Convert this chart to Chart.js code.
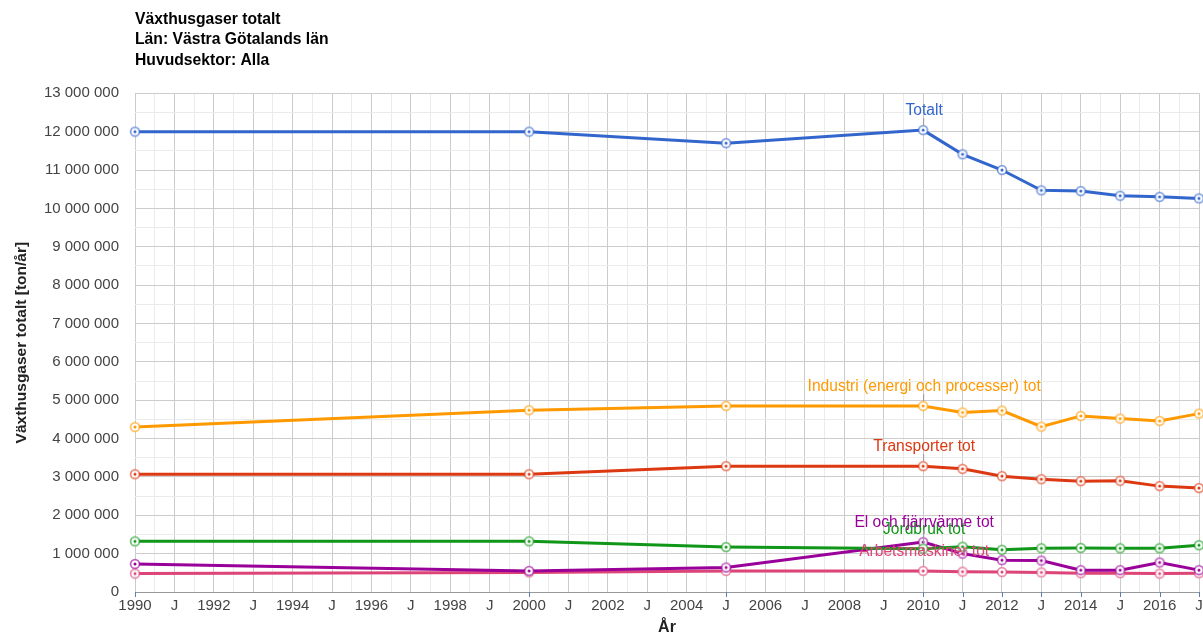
<!DOCTYPE html>
<html>
<head>
<meta charset="utf-8">
<script src="https://cdn.jsdelivr.net/npm/chart.js@4"></script>
<style>
  body { margin: 0; background: #fff; }
  #wrap { width: 1203px; height: 633px; }
</style>
</head>
<body>
<div id="wrap"><canvas id="chart" width="1203" height="633"></canvas></div>
<script>
// Data
const years = [1990, 2000, 2005, 2010, 2011, 2012, 2013, 2014, 2015, 2016, 2017];

const totalt         = [12000000, 12000000, 11700000, 12040000, 11410000, 11000000, 10470000, 10450000, 10330000, 10300000, 10260000];
const industri       = [4300000, 4740000, 4850000, 4850000, 4680000, 4730000, 4310000, 4590000, 4520000, 4460000, 4650000];
const transporter    = [3070000, 3070000, 3280000, 3280000, 3210000, 3020000, 2940000, 2890000, 2900000, 2760000, 2710000];
const jordbruk       = [1320000, 1320000, 1170000, 1130000, 1180000, 1100000, 1140000, 1150000, 1140000, 1140000, 1220000];
const elFjarrvarme   = [730000, 550000, 640000, 1300000, 1000000, 830000, 820000, 570000, 570000, 770000, 570000];
const arbetsmaskiner = [480000, 510000, 550000, 550000, 530000, 520000, 510000, 490000, 490000, 480000, 490000];

const seriesNames = ['Totalt', 'Industri (energi och processer) tot', 'Transporter tot',
                     'Jordbruk tot', 'El och fjärrvärme tot', 'Arbetsmaskiner tot'];

const xTickLabels = ['1990', 'J', '1992', 'J', '1994', 'J', '1996', 'J', '1998', 'J', '2000', 'J', '2002', 'J',
                     '2004', 'J', '2006', 'J', '2008', 'J', '2010', 'J', '2012', 'J', '2014', 'J', '2016', 'J'];
const yTickLabels = ['0', '1 000 000', '2 000 000', '3 000 000', '4 000 000', '5 000 000', '6 000 000',
                     '7 000 000', '8 000 000', '9 000 000', '10 000 000', '11 000 000', '12 000 000', '13 000 000'];

const titleLines = ['Växthusgaser totalt', 'Län: Västra Götalands län', 'Huvudsektor: Alla'];
const yTitle = 'Växthusgaser totalt [ton/år]';
const xTitle = 'År';

const colors = ['#3366cc', '#ff9900', '#dc3912', '#109618', '#990099', '#dd4477'];
const FONT = 'Arial, "Liberation Sans", sans-serif';

// small ringed marker like the original
function makePoint(color) {
    const c = document.createElement('canvas');
    c.width = 12; c.height = 12;
    const g = c.getContext('2d');
    g.beginPath();
    g.arc(6, 6, 4.4, 0, Math.PI * 2);
    g.fillStyle = '#fff';
    g.fill();
    g.globalAlpha = 0.6;
    g.lineWidth = 1.8;
    g.strokeStyle = color;
    g.stroke();
    g.globalAlpha = 1;
    g.beginPath();
    g.arc(6, 6, 1.5, 0, Math.PI * 2);
    g.fillStyle = color;
    g.fill();
    return c;
}

const allValues = [totalt, industri, transporter, jordbruk, elFjarrvarme, arbetsmaskiner];

const datasets = allValues.map((vals, i) => ({
    label: seriesNames[i],
    data: years.map((y, k) => ({ x: y, y: vals[k] })),
    borderColor: colors[i],
    backgroundColor: colors[i],
    borderWidth: 3,
    pointStyle: makePoint(colors[i]),
    tension: 0,
    clip: 10
}));

// series names written above the 2010 point
const labelPlugin = {
    id: 'seriesLabels',
    afterDatasetsDraw(chart) {
        const ctx = chart.ctx;
        const idx = years.indexOf(2010);
        ctx.save();
        ctx.font = '15.6px ' + FONT;
        ctx.textAlign = 'center';
        ctx.textBaseline = 'middle';
        chart.data.datasets.forEach((ds, i) => {
            const pt = chart.getDatasetMeta(i).data[idx];
            ctx.strokeStyle = '#999';
            ctx.lineWidth = 1;
            ctx.beginPath();
            ctx.moveTo(pt.x + 0.5, pt.y - 12);
            ctx.lineTo(pt.x + 0.5, pt.y - 5);
            ctx.stroke();
            ctx.fillStyle = colors[i];
            ctx.fillText(ds.label, pt.x + 1, pt.y - 19);
        });
        ctx.restore();
    },
    afterDraw(chart) {
        // small tick marks under the data years
        const ctx = chart.ctx;
        const bottom = chart.chartArea.bottom;
        ctx.save();
        ctx.strokeStyle = '#5b7fb5';
        ctx.lineWidth = 1;
        chart.getDatasetMeta(0).data.forEach(p => {
            const x = Math.round(p.x) + 0.5;
            ctx.beginPath();
            ctx.moveTo(x, bottom);
            ctx.lineTo(x, bottom + 5);
            ctx.stroke();
        });
        ctx.restore();
    }
};

new Chart(document.getElementById('chart'), {
    type: 'line',
    data: { datasets },
    plugins: [labelPlugin],
    options: {
        responsive: false,
        animation: false,
        layout: { autoPadding: false, padding: { left: 0, right: 4, top: 0, bottom: 0 } },
        plugins: {
            legend: { display: false },
            tooltip: { enabled: false },
            title: {
                display: true,
                text: titleLines,
                align: 'start',
                fullSize: false,
                color: '#000',
                font: { family: FONT, size: 15.7, weight: 'bold', lineHeight: 1.28 },
                padding: { top: 10, bottom: 23 }
            }
        },
        scales: {
            x: {
                type: 'linear',
                min: 1990,
                max: 2017,
                afterFit(scale) {
                    scale.height = 41;
                    scale.paddingLeft = 0;
                    scale.paddingRight = 0;
                },
                border: { display: true, color: '#999' },
                grid: {
                    drawTicks: false,
                    color: c => Number.isInteger(c.tick.value) ? '#cccccc' : '#ebebeb'
                },
                ticks: {
                    stepSize: 0.5,
                    autoSkip: false,
                    maxRotation: 0,
                    padding: 5,
                    color: '#444',
                    font: { family: FONT, size: 15 },
                    callback: v => Number.isInteger(v) ? (xTickLabels[v - 1990] || '') : ''
                },
                title: {
                    display: true,
                    text: xTitle,
                    color: '#222',
                    padding: { top: 0, bottom: -4 },
                    font: { family: FONT, size: 16, weight: 'bold' }
                }
            },
            y: {
                min: 0,
                max: 13000000,
                afterFit(scale) { scale.width = 135; },
                border: { display: false },
                grid: {
                    drawTicks: false,
                    color: c => (c.tick.value % 1000000 === 0) ? '#cccccc' : '#ebebeb'
                },
                ticks: {
                    stepSize: 500000,
                    autoSkip: false,
                    padding: 16,
                    color: '#444',
                    font: { family: FONT, size: 15 },
                    callback: v => (v % 1000000 === 0) ? yTickLabels[v / 1000000] : ''
                },
                title: {
                    display: true,
                    text: yTitle,
                    color: '#222',
                    padding: { top: 12 },
                    font: { family: FONT, size: 15.5, weight: 'bold' }
                }
            }
        }
    }
});
</script>
</body>
</html>
